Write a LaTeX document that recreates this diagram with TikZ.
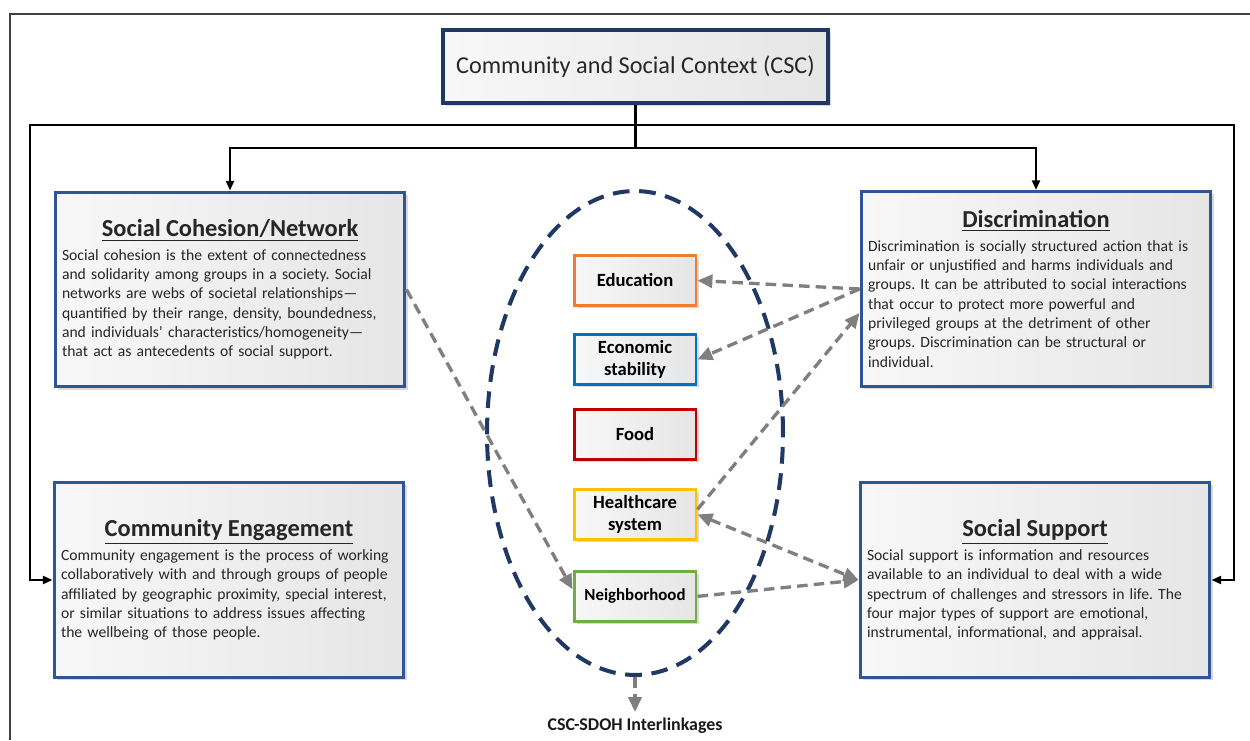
\documentclass[tikz,border=0pt]{standalone}
\usepackage{fontspec}
\setmainfont{Carlito}
\usetikzlibrary{positioning,arrows.meta,shadows,shapes.geometric}

\definecolor{cscnavy}{RGB}{31,56,100}
\definecolor{boxblue}{RGB}{47,85,151}
\definecolor{linkgray}{RGB}{127,127,127}
\definecolor{edorange}{RGB}{237,125,49}
\definecolor{ecoblue}{RGB}{0,112,192}
\definecolor{foodred}{RGB}{192,0,0}
\definecolor{hcgold}{RGB}{255,192,0}
\definecolor{nbgreen}{RGB}{112,173,71}

\newcommand{\topicfont}{\frenchspacing\hyphenpenalty10000\relax\fontsize{8.9}{11}\selectfont}
\newcommand{\topichead}[1]{{\centering\fontsize{13.9}{15}\selectfont\bfseries\underline{#1}\par}\vspace{2.4pt}}

\tikzset{
  shadebox/.style={rectangle, left color=gray!6, right color=gray!20, text=black!85,
    drop shadow={opacity=0.3, shadow xshift=1.5pt, shadow yshift=-1.5pt}},
  cscbox/.style={shadebox, draw=cscnavy, line width=2.3pt, minimum width=7.7cm,
    minimum height=1.46cm, font=\fontsize{13.8}{16}\selectfont},
  topicbox/.style={shadebox, draw=boxblue, line width=1.7pt, minimum width=7cm,
    minimum height=3.9cm, text width=6.72cm, inner sep=0pt, align=left, font=\topicfont},
  sdoh/.style={shadebox, line width=1.7pt, minimum width=2.44cm, minimum height=1cm,
    inner sep=1pt, align=center, text=black, font=\bfseries\fontsize{10.6}{12.4}\selectfont},
  tree/.style={line width=1.4pt, -{Triangle[length=5.5pt,width=4.5pt]}},
  link/.style={linkgray, line width=1.9pt, dash pattern=on 6pt off 3.5pt,
    -{Triangle[length=8.5pt,width=7.5pt]}},
  bilink/.style={link, {Triangle[length=8.5pt,width=7.5pt]}-{Triangle[length=8.5pt,width=7.5pt]}},
  hoop/.style={ellipse, draw=cscnavy, line width=2.3pt, dash pattern=on 9.5pt off 5.5pt,
    minimum width=5.92cm, minimum height=9.68cm, inner sep=0pt},
}

\begin{document}
\begin{tikzpicture}[x=0.02cm, y=-0.02cm]
  \useasboundingbox (0,0) rectangle (1250,740);
  \draw[black!75, line width=0.9pt] (1250,14) -- (10,14) -- (10,740);

  \node[cscbox] (csc) at (635.5,66.5) {Community and Social Context (CSC)};

  \node[topicbox] (soccoh) at (230,289.5) {\topichead{Social Cohesion/Network}%
    Social cohesion is the extent of connectedness\\
    and solidarity among groups in a society. Social\\
    networks are webs of societal relationships—\\
    quantified by their range, density, boundedness,\\
    and individuals’ characteristics/homogeneity—\\
    that act as antecedents of social support.};
  \node[topicbox] (discrim) at (1036,289) {\topichead{Discrimination}%
    Discrimination is socially structured action that is\\
    unfair or unjustified and harms individuals and\\
    groups. It can be attributed to social interactions\\
    that occur to protect more powerful and\\
    privileged groups at the detriment of other\\
    groups. Discrimination can be structural or\\
    individual.};
  \node[topicbox] (commeng) at (229,580) {\topichead{Community Engagement}%
    Community engagement is the process of working\\
    collaboratively with and through groups of people\\
    affiliated by geographic proximity, special interest,\\
    or similar situations to address issues affecting\\
    the wellbeing of those people.};
  \node[topicbox] (socsup) at (1035,580) {\topichead{Social Support}%
    Social support is information and resources\\
    available to an individual to deal with a wide\\
    spectrum of challenges and stressors in life. The\\
    four major types of support are emotional,\\
    instrumental, informational, and appraisal.};

  % tree from the CSC box
  \coordinate (hub) at (635.5,125);
  \coordinate (fork) at (635.5,148);
  \coordinate (lcorner) at (30,125);
  \coordinate (rcorner) at (1234,125);
  \draw[line width=1.4pt] (csc.south) -- (fork);
  \draw[tree] (fork) -| (soccoh.north);
  \draw[tree] (fork) -| (discrim.north);
  \draw[tree] (hub) -- (lcorner) |- (commeng.west);
  \draw[tree] (hub) -- (rcorner) |- (socsup.east);

  % SDOH ring
  \node[hoop] (ring) at (635,433) {};
  \node[sdoh, draw=edorange] (educ) at (635,280.5) {Education};
  \node[sdoh, draw=ecoblue, below=0.52cm of educ] (econ) {Economic\\stability};
  \node[sdoh, draw=foodred, below=0.44cm of econ] (food) {Food};
  \node[sdoh, draw=hcgold, below=0.54cm of food] (health) {Healthcare\\system};
  \node[sdoh, draw=nbgreen, below=0.58cm of health, font=\bfseries\fontsize{9.6}{11}\selectfont] (nbhd) {Neighborhood};
  \node[font=\bfseries\fontsize{10.2}{12}\selectfont, text=black!90] (interlink) at (635,726) {CSC-SDOH Interlinkages};

  \draw[link] (discrim.west) -- (educ.east);
  \draw[link] (discrim.west) -- (econ.east);
  \draw[link] ([yshift=0.1cm]health.east) -- ([yshift=-0.48cm]discrim.west);
  \draw[link] (soccoh.east) -- ([yshift=0.14cm]nbhd.west);
  \draw[link] (nbhd.east) -- (socsup.west);
  \draw[bilink] (health.east) -- (socsup.west);
  \draw[link] (ring.south) -- (interlink.north);
\end{tikzpicture}
\end{document}
